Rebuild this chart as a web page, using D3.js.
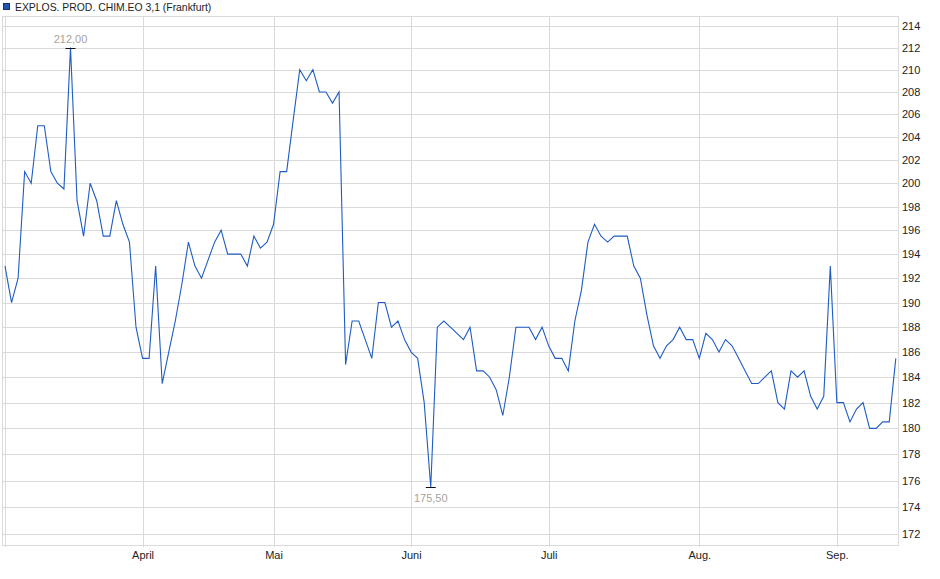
<!DOCTYPE html>
<html>
<head>
<meta charset="utf-8">
<script src="https://cdn.jsdelivr.net/npm/d3@7"></script>
<style>
  html, body { margin: 0; padding: 0; background: #fff; }
  svg { display: block; font-family: "Liberation Sans", Arial, sans-serif; }
</style>
</head>
<body>
<script>
var title = 'EXPLOS. PROD. CHIM.EO 3,1 (Frankfurt)'

// closing prices, one per trading day
var prices = [
  193, 190, 192, 201, 200, 205, 205, 201, 200, 199.5,
  212, 198.5, 195.5, 200, 198.5, 195.5, 195.5, 198.5, 196.5, 195,
  188, 185.5, 185.5, 193, 183.5, 186, 188.5, 191.5, 195, 193,
  192, 193.5, 195, 196, 194, 194, 194, 193, 195.5, 194.5,
  195, 196.5, 201, 201, 205.5, 210, 209, 210, 208, 208,
  207, 208, 185, 188.5, 188.5, 187, 185.5, 190, 190, 188,
  188.5, 187, 186, 185.5, 182, 175.5, 188, 188.5, 188, 187.5,
  187, 188, 184.5, 184.5, 184, 183, 181, 184, 188, 188,
  188, 187, 188, 186.5, 185.5, 185.5, 184.5, 188.5, 191, 195,
  196.5, 195.5, 195, 195.5, 195.5, 195.5, 193, 192, 189, 186.5,
  185.5, 186.5, 187, 188, 187, 187, 185.5, 187.5, 187, 186,
  187, 186.5, 185.5, 184.5, 183.5, 183.5, 184, 184.5, 182, 181.5,
  184.5, 184, 184.5, 182.5, 181.5, 182.5, 193, 182, 182, 180.5,
  181.5, 182, 180, 180, 180.5, 180.5, 185.5
]

// first trading day of each month (index into prices)
var monthLabels = ['April', 'Mai', 'Juni', 'Juli', 'Aug.', 'Sep.']
var monthStart = [21, 41, 62, 83, 106, 127]

var yTicks = [172, 174, 176, 178, 180, 182, 184, 186, 188, 190, 192,
  194, 196, 198, 200, 202, 204, 206, 208, 210, 212, 214]
var yDomain = [171.2, 214.9]

var width = 940
var height = 579
var frameLeft = 2.5
var plotLeft = 5
var plotRight = 898
var plotTop = 16
var plotBottom = 545
var gridColor = '#dadada'
var lineColor = '#1f5cc4'

var de = d3.formatLocale({ decimal: ',', thousands: '.', grouping: [3], currency: ['', ' €'] })
var fmt = de.format('.2f')

var svg = d3.select('body').append('svg')
  .attr('width', width)
  .attr('height', height)

var x = d3.scaleLinear()
  .domain([0, prices.length - 1])
  .range([plotLeft, 895.8])

var y = d3.scaleLog()
  .domain(yDomain)
  .range([plotBottom, plotTop])

// legend / title
svg.append('rect')
  .attr('x', 3.5)
  .attr('y', 3.5)
  .attr('width', 6)
  .attr('height', 6)
  .style('fill', '#1f55b0')
  .style('stroke', '#16346a')
  .style('stroke-width', 1)

svg.append('text')
  .attr('x', 15)
  .attr('y', 10.5)
  .text(title)
  .style('font-size', '10.4px')
  .style('fill', '#222')

var grid = svg.append('g')
  .attr('shape-rendering', 'crispEdges')
  .style('stroke', gridColor)
  .style('stroke-width', 1)

// horizontal grid
grid.selectAll('line.h')
  .data(yTicks)
  .enter().append('line')
  .attr('class', 'h')
  .attr('x1', frameLeft)
  .attr('x2', plotRight)
  .attr('y1', function (d) { return Math.round(y(d)) + 0.5 })
  .attr('y2', function (d) { return Math.round(y(d)) + 0.5 })

// vertical grid at month starts
grid.selectAll('line.v')
  .data(monthStart)
  .enter().append('line')
  .attr('class', 'v')
  .attr('x1', function (d) { return Math.round(x(d)) + 0.5 })
  .attr('x2', function (d) { return Math.round(x(d)) + 0.5 })
  .attr('y1', plotTop)
  .attr('y2', plotBottom + 2)

// first data column
grid.append('line')
  .attr('x1', Math.round(x(0)) + 0.5)
  .attr('x2', Math.round(x(0)) + 0.5)
  .attr('y1', plotTop)
  .attr('y2', plotBottom + 2)

// frame
grid.append('rect')
  .attr('x', frameLeft)
  .attr('y', plotTop + 0.5)
  .attr('width', plotRight - frameLeft)
  .attr('height', plotBottom - plotTop)
  .style('fill', 'none')

// right axis labels
var yAxis = d3.axisRight(y)
  .tickValues(yTicks)
  .tickSize(0)
  .tickPadding(4)
  .tickFormat(d3.format('d'))

svg.append('g')
  .attr('transform', 'translate(' + plotRight + ',0)')
  .call(yAxis)
  .call(function (g) { g.select('.domain').remove() })
  .selectAll('text')
  .style('font-size', '11px')
  .style('font-family', '"Liberation Sans", Arial, sans-serif')
  .style('fill', '#222')

// bottom axis labels
var xAxis = d3.axisBottom(x)
  .tickValues(monthStart)
  .tickSize(0)
  .tickPadding(6)
  .tickFormat(function (d, i) { return monthLabels[i] })

svg.append('g')
  .attr('transform', 'translate(0,' + plotBottom + ')')
  .call(xAxis)
  .call(function (g) { g.select('.domain').remove() })
  .selectAll('text')
  .style('font-size', '11px')
  .style('font-family', '"Liberation Sans", Arial, sans-serif')
  .style('fill', '#222')

// price line
var line = d3.line()
  .x(function (d, i) { return x(i) })
  .y(function (d) { return y(d) })

svg.append('path')
  .datum(prices)
  .attr('d', line)
  .style('fill', 'none')
  .style('stroke', lineColor)
  .style('stroke-width', 1.1)

// high / low markers
var hi = d3.maxIndex(prices)
var lo = d3.minIndex(prices)
var marks = [
  { i: hi, v: prices[hi], dy: -8 },
  { i: lo, v: prices[lo], dy: 12 }
]

var mk = svg.selectAll('g.mark')
  .data(marks)
  .enter().append('g')
  .attr('class', 'mark')

mk.append('line')
  .attr('x1', function (d) { return x(d.i) - 5 })
  .attr('x2', function (d) { return x(d.i) + 5 })
  .attr('y1', function (d) { return Math.round(y(d.v)) + 0.5 })
  .attr('y2', function (d) { return Math.round(y(d.v)) + 0.5 })
  .style('stroke', '#111')
  .style('stroke-width', 1)

mk.append('text')
  .attr('x', function (d) { return x(d.i) })
  .attr('y', function (d) { return y(d.v) + d.dy })
  .attr('text-anchor', 'middle')
  .attr('dominant-baseline', 'middle')
  .text(function (d) { return fmt(d.v) })
  .style('font-size', '11px')
  .style('fill', '#a8a29a')
</script>
</body>
</html>
